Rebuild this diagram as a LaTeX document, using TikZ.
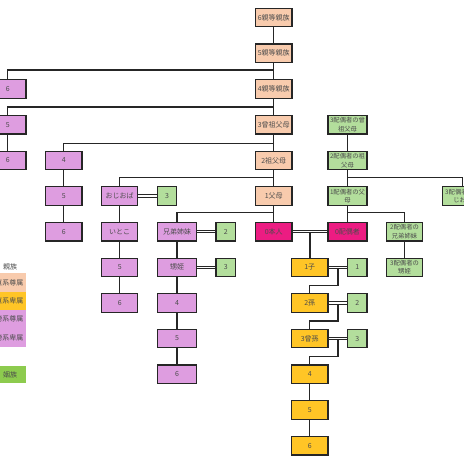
\documentclass[tikz,border=0pt]{standalone}
\usepackage{fontspec}
\newfontfamily\jp{Noto Sans CJK JP}
\definecolor{sal}{HTML}{F8CBAD}
\definecolor{gold}{HTML}{FFC526}
\definecolor{vio}{HTML}{DE9DE0}
\definecolor{mag}{HTML}{EC1C82}
\definecolor{lgr}{HTML}{B3DE9C}
\definecolor{lgd}{HTML}{8DCB4E}
\begin{document}
\begin{tikzpicture}[x=1pt,y=-1pt,
 box/.style={draw=black!85, line width=1.2pt, inner sep=0pt, minimum height=18.4pt,
   text=black!70, font=\jp\fontsize{7}{8.6}\selectfont, align=center},
 two/.style={font=\jp\fontsize{6.3}{8.6}\selectfont},
 ln/.style={line width=1.3pt, draw=black!85},
 dbl/.style={line width=0.9pt, draw=black!85, double=white, double distance=1.3pt},
 leg/.style={inner sep=0pt, text=black!70, font=\jp\fontsize{7}{8}\selectfont}]
\useasboundingbox (0,0) rectangle (464,464);
\clip (0,0) rectangle (464,464);
% legend
\fill[sal] (-40,273.3) rectangle (26,291.7);
\fill[gold] (-40,291.7) rectangle (26,310);
\fill[vio] (-40,310) rectangle (26,346.7);
\fill[lgd] (-40,365.7) rectangle (26,383.3);
\node[leg] (l0) at (10,267) {親族};
\node[leg,anchor=east] (l1) at (23.5,282.5) {直系尊属};
\node[leg,anchor=east] (l2) at (23.5,300.8) {直系卑属};
\node[leg,anchor=east] (l3) at (23.5,319.2) {傍系尊属};
\node[leg,anchor=east] (l4) at (23.5,337.5) {傍系卑属};
\node[leg] (l5) at (10,374.5) {姻族};
% lineal ascendants
\node[box,fill=sal,minimum width=36.7pt] (s6) at (273.7,17.5) {6親等親族};
\node[box,fill=sal,minimum width=36.7pt] (s5) at (273.7,53.2) {5親等親族};
\node[box,fill=sal,minimum width=36.7pt] (s4) at (273.7,89) {4親等親族};
\node[box,fill=sal,minimum width=36.7pt] (s3) at (273.7,124.7) {3曾祖父母};
\node[box,fill=sal,minimum width=36.7pt] (s2) at (273.7,160.5) {2祖父母};
\node[box,fill=sal,minimum width=36.7pt] (s1) at (273.7,196) {1父母};
\node[box,fill=mag,minimum width=36.7pt] (me) at (273.7,231.7) {0本人};
\node[box,fill=mag,minimum width=39pt] (sp) at (347.5,231.7) {0配偶者};
% collateral
\node[box,fill=vio,minimum width=36.7pt] (a6) at (7.7,89) {6};
\node[box,fill=vio,minimum width=36.7pt] (a5) at (7.7,124.7) {5};
\node[box,fill=vio,minimum width=36.7pt] (a6b) at (7.7,160.5) {6};
\node[box,fill=vio,minimum width=36.7pt] (b4) at (63.7,160.5) {4};
\node[box,fill=vio,minimum width=36.7pt] (b5) at (63.7,196) {5};
\node[box,fill=vio,minimum width=36.7pt] (b6) at (63.7,231.7) {6};
\node[box,fill=vio,minimum width=36pt] (c3) at (119.7,196) {おじおば};
\node[box,fill=vio,minimum width=36pt] (c4) at (119.7,231.7) {いとこ};
\node[box,fill=vio,minimum width=36pt] (c5) at (119.7,267.3) {5};
\node[box,fill=vio,minimum width=36pt] (c6) at (119.7,303) {6};
\node[box,fill=vio,minimum width=39.3pt] (d2) at (177,231.7) {兄弟姉妹};
\node[box,fill=vio,minimum width=39.3pt] (d3) at (177,267.3) {甥姪};
\node[box,fill=vio,minimum width=39.3pt] (d4) at (177,303) {4};
\node[box,fill=vio,minimum width=39.3pt] (d5) at (177,338.5) {5};
\node[box,fill=vio,minimum width=39.3pt] (d6) at (177,374.2) {6};
\node[box,fill=lgr,minimum width=19.4pt] (gc) at (167,196) {3};
\node[box,fill=lgr,minimum width=19.4pt] (gd2) at (225.7,231.7) {2};
\node[box,fill=lgr,minimum width=19.4pt] (gd3) at (225.7,267.3) {3};
% lineal descendants
\node[box,fill=gold,minimum width=36.7pt] (y1) at (309.7,267.3) {1子};
\node[box,fill=gold,minimum width=36.7pt] (y2) at (309.7,303) {2孫};
\node[box,fill=gold,minimum width=36.7pt] (y3) at (309.7,338.5) {3曾孫};
\node[box,fill=gold,minimum width=36.7pt] (y4) at (309.7,374.2) {4};
\node[box,fill=gold,minimum width=36.7pt] (y5) at (309.7,410) {5};
\node[box,fill=gold,minimum width=36.7pt] (y6) at (309.7,445.8) {6};
\node[box,fill=lgr,minimum width=19.4pt] (g1) at (357.3,267.3) {1};
\node[box,fill=lgr,minimum width=19.4pt] (g2) at (357.3,303) {2};
\node[box,fill=lgr,minimum width=19.4pt] (g3) at (357.3,338.5) {3};
% spouse side
\node[box,two,fill=lgr,minimum width=39pt] (p3) at (347.5,124.7) {3配偶者の曾\\祖父母};
\node[box,two,fill=lgr,minimum width=39pt] (p2) at (347.5,160.5) {2配偶者の祖\\父母};
\node[box,two,fill=lgr,minimum width=39pt] (p1) at (347.5,196) {1配偶者の父\\母};
\node[box,two,fill=lgr,minimum width=36.4pt] (q2) at (404.5,231.7) {2配偶者の\\兄弟姉妹};
\node[box,two,fill=lgr,minimum width=36.4pt] (q3) at (404.5,267.3) {3配偶者の\\甥姪};
\node[box,two,fill=lgr,minimum width=40pt] (r3) at (462.7,196) {3配偶者のお\\じおば};
% junctions
\coordinate (j1) at (273.7,70);
\coordinate (j2) at (273.7,107);
\coordinate (j3) at (273.7,143.5);
\coordinate (j4) at (273.7,177.5);
\coordinate (j5) at (273.7,212.5);
\coordinate (e1) at (347.5,177.5);
\coordinate (e2) at (347.5,212.5);
% vertical chains
\draw[ln] (s6) -- (s5);
\draw[ln] (s5) -- (s4);
\draw[ln] (s4) -- (s3);
\draw[ln] (s3) -- (s2);
\draw[ln] (s2) -- (s1);
\draw[ln] (s1) -- (me);
\draw[ln] (a6.north) |- (j1);
\draw[ln] (a5.north) |- (j2);
\draw[ln] (b4.north) |- (j3);
\draw[ln] (c3.north) |- (j4);
\draw[ln] (d2.north) |- (j5);
\draw[ln] (a5) -- (a6b);
\draw[ln] (b4) -- (b5);
\draw[ln] (b5) -- (b6);
\draw[ln] (c3) -- (c4);
\draw[ln] (c4) -- (c5);
\draw[ln] (c5) -- (c6);
\draw[ln] (d2) -- (d3);
\draw[ln] (d3) -- (d4);
\draw[ln] (d4) -- (d5);
\draw[ln] (d5) -- (d6);
\draw[ln] (y4) -- (y5);
\draw[ln] (y5) -- (y6);
\draw[ln] (p3) -- (p2);
\draw[ln] (p2) -- (p1);
\draw[ln] (p1) -- (sp);
\draw[ln] (e1) -| (r3.north);
\draw[ln] (e2) -| (q2.north);
\draw[ln] (q2) -- (q3);
% marriages / spouses
\draw[dbl] (me.east) -- (sp.west);
\draw[dbl] (c3.east) -- (gc.west);
\draw[dbl] (d2.east) -- (gd2.west);
\draw[dbl] (d3.east) -- (gd3.west);
\draw[dbl] (y1.east) -- (g1.west);
\draw[dbl] (y2.east) -- (g2.west);
\draw[dbl] (y3.east) -- (g3.west);
\coordinate (m0) at (310,232.8);
\coordinate (m1) at (338,268.4);
\coordinate (m2) at (338,304.1);
\coordinate (m3) at (338,339.6);
\coordinate (k1) at (338,285.7);
\coordinate (k2) at (338,321);
\coordinate (k3) at (338,356.7);
\draw[ln] (m0) -- (m0 |- y1.north);
\draw[ln] (m1) -- (k1) -| (y2.north);
\draw[ln] (m2) -- (k2) -| (y3.north);
\draw[ln] (m3) -- (k3) -| (y4.north);
\end{tikzpicture}
\end{document}
